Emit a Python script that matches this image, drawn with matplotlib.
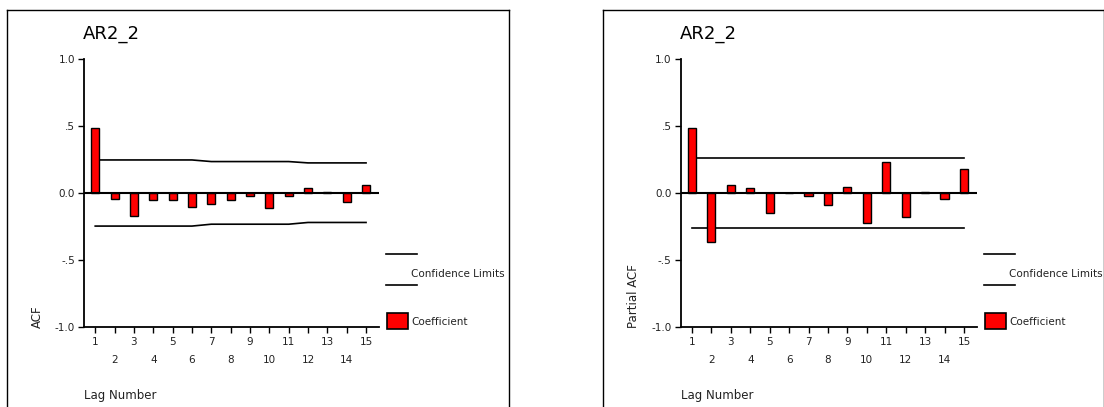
import numpy as np
import matplotlib.pyplot as plt
from matplotlib.lines import Line2D
from matplotlib.patches import Rectangle

#------------------------
# data
lags = list(range(1, 16))
acf = [0.49, -0.04, -0.17, -0.05, -0.05, -0.10, -0.08, -0.05,
       -0.02, -0.11, -0.02, 0.035, 0.01, -0.065, 0.06]
acf_upper = [0.248] * 6 + [0.236] * 5 + [0.226] * 4
acf_lower = [-0.246] * 6 + [-0.232] * 5 + [-0.219] * 4

pacf = [0.49, -0.365, 0.06, 0.035, -0.15, 0.003, -0.02, -0.09,
        0.045, -0.22, 0.23, -0.175, 0.012, -0.04, 0.18]
pacf_upper = [0.262] * 15
pacf_lower = [-0.257] * 15

yticks = [1.0, 0.5, 0.0, -0.5, -1.0]
ytick_labels = ["1.0", ".5", "0.0", "-.5", "-1.0"]
title = "AR2_2"
xlabel = "Lag Number"

W, H = 1104, 407
fig = plt.figure(figsize=(W / 100, H / 100), dpi=100)
fig.patch.set_facecolor("white")
plt.rcParams['font.family'] = ['DejaVu Sans']

def px(x, y):
    # pixel coords -> figure fraction
    return x / W, 1 - y / H

def panel(x_axis, x_end, frame_x0, frame_x1, vals, upper, lower, ylab):
    #frame round the panel
    fig.add_artist(Line2D([frame_x0 / W, frame_x0 / W], [1 - 9.5 / H, 0], color="black", lw=1))
    fig.add_artist(Line2D([frame_x0 / W, frame_x1 / W], [1 - 9.5 / H, 1 - 9.5 / H], color="black", lw=1))
    fig.add_artist(Line2D([frame_x1 / W, frame_x1 / W], [1 - 9.5 / H, 0], color="black", lw=1))

    x0, y1 = px(x_axis, 59.3)
    x1, y0 = px(x_end, 327)
    ax = fig.add_axes([x0, y0, x1 - x0, y1 - y0])
    ax.set_facecolor("none")

    ax.bar(lags, vals, width=0.42, color="#ff0000", edgecolor="black", lw=1, zorder=3)
    ax.plot(lags, upper, color="black", lw=1.2, zorder=2)
    ax.plot(lags, lower, color="black", lw=1.2, zorder=2)
    ax.axhline(0, color="black", lw=1.5, zorder=4)

    ax.set_xlim(0.42, 15.67)
    ax.set_ylim(-1, 1)
    for s in ["top", "right"]:
        ax.spines[s].set_visible(False)
    for s in ["left", "bottom"]:
        ax.spines[s].set_linewidth(1.3)

    ax.set_yticks(yticks)
    ax.set_yticklabels(ytick_labels)
    ax.set_xticks(lags[::2])
    ax.set_xticklabels([str(l) for l in lags[::2]])
    ax.set_xticks(lags[1::2], minor=True)
    ax.set_xticklabels([str(l) for l in lags[1::2]], minor=True)
    ax.tick_params(axis="both", which="both", direction="out", length=4, width=1,
                   labelsize=7.5, colors="black", labelcolor="#222222")
    ax.tick_params(axis="x", which="major", pad=3.5)
    ax.tick_params(axis="x", which="minor", pad=16.5)
    ax.tick_params(axis="y", pad=2.5)

    # title, labels
    fig.text(*px(x_axis - 1, 34), title, fontsize=13, ha="left", va="center")
    fig.text(*px(x_axis, 395), xlabel, fontsize=8.5, ha="left", va="center", color="#222222")
    fig.text(*px(x_axis - 47, 328), ylab, fontsize=8.5, rotation=90, rotation_mode="anchor",
             ha="left", va="center", color="#222222")

    # legend
    lx = x_end + 7
    fig.add_artist(Line2D([lx / W, (lx + 31) / W], [1 - 253.5 / H] * 2, color="black", lw=1.2))
    fig.add_artist(Line2D([lx / W, (lx + 31) / W], [1 - 284.5 / H] * 2, color="black", lw=1.2))
    fig.text(*px(lx + 25, 274), "Confidence Limits", fontsize=7.5, ha="left", va="center", color="#222222")
    bx, by = px(lx + 1, 329)
    fig.add_artist(Rectangle((bx, by), 21 / W, 16 / H, transform=fig.transFigure,
                             facecolor="#ff0000", edgecolor="black", lw=1.2))
    fig.text(*px(lx + 25, 322), "Coefficient", fontsize=7.5, ha="left", va="center", color="#222222")
    return ax

panel(84, 379, 7, 509, acf, acf_upper, acf_lower, "ACF")
panel(680.7, 977, 603, 1103.5, pacf, pacf_upper, pacf_lower, "Partial ACF")

fig.savefig("out.png", dpi=100, facecolor="white")
